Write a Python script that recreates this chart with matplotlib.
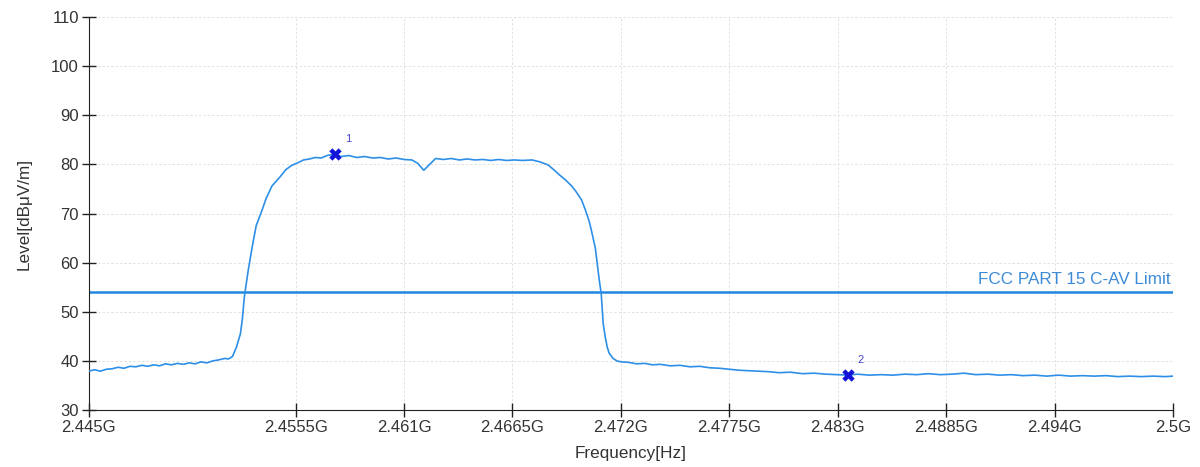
import matplotlib.pyplot as plt

plt.rcParams['font.family'] = ['Liberation Sans', 'DejaVu Sans']

# measured trace (GHz, dBuV/m)
freq = [2.4450, 2.4453, 2.4456, 2.4459, 2.4462, 2.4465, 2.4468, 2.4471, 2.4474, 2.4477,
        2.4480, 2.4483, 2.4486, 2.4489, 2.4492, 2.4495, 2.4498, 2.4501, 2.4504, 2.4507,
        2.4510, 2.4513, 2.4516, 2.4519, 2.4521, 2.4523,
        2.4525, 2.4527, 2.4528, 2.4529, 2.4531, 2.4533, 2.4535, 2.4538, 2.4540, 2.4543,
        2.4547, 2.4550, 2.4553, 2.4556, 2.4559, 2.4562, 2.4565, 2.4568, 2.4571, 2.4575,
        2.4578, 2.4582, 2.4586, 2.4590, 2.4594, 2.4598, 2.4602, 2.4606, 2.4610, 2.4614,
        2.4617, 2.4620, 2.4623, 2.4626, 2.4630, 2.4634, 2.4638, 2.4642, 2.4646, 2.4650,
        2.4654, 2.4658, 2.4662, 2.4666, 2.4670, 2.4675, 2.4679, 2.4683, 2.4686, 2.4689,
        2.4692, 2.4695, 2.4697, 2.4700, 2.4702, 2.4704, 2.4705, 2.4707, 2.4708, 2.4709,
        2.4710, 2.4711, 2.4712, 2.4713, 2.4714, 2.4716, 2.4718, 2.4720,
        2.4724, 2.4728, 2.4732, 2.4736, 2.4740, 2.4745, 2.4750, 2.4755, 2.4760, 2.4765,
        2.4770, 2.4775, 2.4780, 2.4785, 2.4790, 2.4795, 2.4800, 2.4806, 2.4812, 2.4818,
        2.4824, 2.4830, 2.4835, 2.4840, 2.4846, 2.4852, 2.4858, 2.4864, 2.4870, 2.4876,
        2.4882, 2.4888, 2.4894, 2.4900, 2.4906, 2.4912, 2.4918, 2.4924, 2.4930, 2.4936,
        2.4942, 2.4948, 2.4954, 2.4960, 2.4966, 2.4972, 2.4978, 2.4984, 2.4990, 2.4996,
        2.5000]
level = [37.9, 38.2, 37.9, 38.3, 38.4, 38.7, 38.5, 38.9, 38.8, 39.1,
         38.9, 39.2, 39.0, 39.4, 39.2, 39.5, 39.3, 39.6, 39.4, 39.8,
         39.6, 40.0, 40.2, 40.5, 40.4, 40.9,
         42.8, 45.5, 48.5, 53.0, 58.5, 63.2, 67.5, 70.7, 73.0, 75.6,
         77.4, 78.9, 79.8, 80.3, 80.9, 81.1, 81.4, 81.3, 81.8, 82.1,
         81.6, 81.8, 81.4, 81.6, 81.3, 81.4, 81.1, 81.3, 81.0, 80.9,
         80.2, 78.8, 80.0, 81.2, 81.0, 81.2, 80.9, 81.1, 80.9, 81.0,
         80.8, 81.0, 80.8, 80.9, 80.8, 80.9, 80.5, 79.9, 78.9, 77.8,
         76.8, 75.6, 74.6, 72.8, 70.7, 68.3, 66.6, 63.0, 59.8, 56.5,
         53.7, 47.6, 45.0, 42.9, 41.6, 40.5, 40.0, 39.8,
         39.7, 39.4, 39.5, 39.2, 39.3, 39.0, 39.1, 38.8, 38.9, 38.6,
         38.5, 38.3, 38.1, 38.0, 37.9, 37.8, 37.6, 37.7, 37.4, 37.5,
         37.3, 37.2, 37.1, 37.3, 37.1, 37.2, 37.1, 37.3, 37.2, 37.4,
         37.2, 37.3, 37.5, 37.2, 37.3, 37.1, 37.2, 37.0, 37.1, 36.9,
         37.1, 36.9, 37.0, 36.9, 37.0, 36.8, 36.9, 36.8, 36.9, 36.8,
         36.9]

limit = 54.0
limit_name = 'FCC PART 15 C-AV Limit'

mk_freq = [2.4575, 2.4835]
mk_level = [82.1, 37.1]
mk_name = ['1', '2']

xticks = [2.445, 2.4555, 2.461, 2.4665, 2.472, 2.4775, 2.483, 2.4885, 2.494, 2.5]
xlabels = ['2.445G', '2.4555G', '2.461G', '2.4665G', '2.472G',
           '2.4775G', '2.483G', '2.4885G', '2.494G', '2.5G']
yticks = [30, 40, 50, 60, 70, 80, 90, 100, 110]

fig = plt.figure(figsize=(12, 4.67), dpi=100)
ax = fig.add_axes([0.0738, 0.122, 0.9037, 0.8416])

ax.grid(True, color='#e2e2e2', linestyle=(0, (2.5, 2)), linewidth=0.7)
ax.set_axisbelow(True)

ax.axhline(limit, color='#2386e0', linewidth=1.8, zorder=2)
ax.text(xticks[-1] - 0.0001, limit + 1.1, limit_name, color='#3d8ad6',
        fontsize=12.3, ha='right', va='bottom')

ax.plot(freq, level, color='#2d8fe8', linewidth=1.2, zorder=3)

ax.scatter(mk_freq, mk_level, marker='X', s=80, color='#1414d8', zorder=4, linewidths=0)
for f, l, n in zip(mk_freq, mk_level, mk_name):
    ax.annotate(n, (f, l), xytext=(7, 9), textcoords='offset points',
                color='#4646c8', fontsize=8)

ax.set_xlim(2.445, 2.5)
ax.set_ylim(30, 110)
ax.set_xticks(xticks)
ax.set_xticklabels(xlabels)
ax.set_yticks(yticks)
ax.tick_params(direction='inout', length=10, width=1, labelsize=12,
               labelcolor='#333333', color='#222222')
ax.tick_params(axis='x', pad=2)
ax.tick_params(axis='y', pad=2)

for s in ['top', 'right']:
    ax.spines[s].set_visible(False)
for s in ['left', 'bottom']:
    ax.spines[s].set_color('#222222')

ax.set_xlabel('Frequency[Hz]', fontsize=12.3, color='#333333', labelpad=8)
ax.set_ylabel('Level[dBμV/m]', fontsize=12.3, color='#333333', labelpad=14)

fig.savefig('out.png', dpi=100)
